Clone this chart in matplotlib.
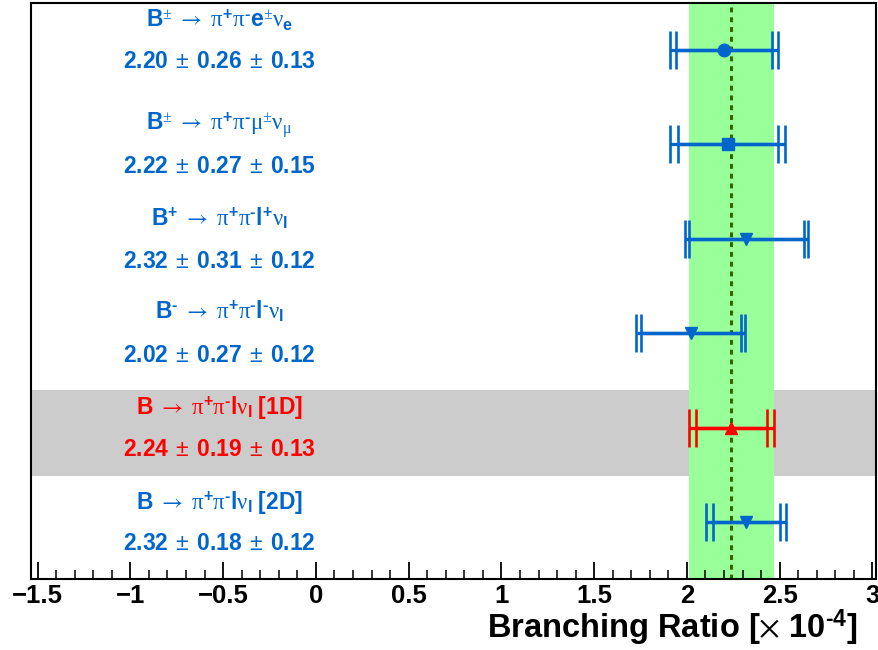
import numpy as np
import matplotlib
matplotlib.use("Agg")
import matplotlib.pyplot as plt
from matplotlib.ticker import MultipleLocator

plt.rcParams["font.family"] = ["Liberation Sans", "DejaVu Sans"]
plt.rcParams["mathtext.fontset"] = "custom"
plt.rcParams["mathtext.rm"] = "Liberation Serif"
plt.rcParams["mathtext.it"] = "Liberation Serif:italic"
plt.rcParams["mathtext.bf"] = "Liberation Sans:bold"
plt.rcParams["mathtext.sf"] = "Liberation Sans"
plt.rcParams["mathtext.tt"] = "STIXGeneral"
plt.rcParams["mathtext.default"] = "rm"

HY = "\u2010"  # short hyphen used for the negative charge superscripts
ARROW = r"\ \mathtt{\rightarrow}\ "
PM = r"\ \,\mathsf{\pm}\,\ "

# Measurements (branching ratio in units of 1e-4)
decay_labels = [
    r"$\mathbf{B}^{\pm}" + ARROW + r"\pi^{\mathbf{+}}\pi^{\mathbf{" + HY + r"}}\mathbf{e}^{\pm}\nu_{\mathbf{e}}$",
    r"$\mathbf{B}^{\pm}" + ARROW + r"\pi^{\mathbf{+}}\pi^{\mathbf{" + HY + r"}}\mu^{\pm}\nu_{\mu}$",
    r"$\mathbf{B}^{\mathbf{+}}" + ARROW + r"\pi^{\mathbf{+}}\pi^{\mathbf{" + HY + r"}}\mathbf{l}^{\mathbf{+}}\nu_{\mathbf{l}}$",
    r"$\mathbf{B}^{\mathbf{" + HY + r"}}" + ARROW + r"\pi^{\mathbf{+}}\pi^{\mathbf{" + HY + r"}}\mathbf{l}^{\mathbf{" + HY + r"}}\nu_{\mathbf{l}}$",
    r"$\mathbf{B}" + ARROW + r"\pi^{\mathbf{+}}\pi^{\mathbf{" + HY + r"}}\mathbf{l}\nu_{\mathbf{l}}\ \mathbf{[1D]}$",
    r"$\mathbf{B}" + ARROW + r"\pi^{\mathbf{+}}\pi^{\mathbf{" + HY + r"}}\mathbf{l}\nu_{\mathbf{l}}\ \mathbf{[2D]}$",
]
central = [2.20, 2.22, 2.32, 2.02, 2.24, 2.32]
stat_err = [0.26, 0.27, 0.31, 0.27, 0.19, 0.18]
syst_err = [0.13, 0.15, 0.12, 0.12, 0.13, 0.12]
markers = ["o", "s", "v", "v", "^", "v"]
highlight = 4  # the 1D result sets the reference band

tick_values = [-1.5, -1, -0.5, 0, 0.5, 1, 1.5, 2, 2.5, 3]
tick_labels = ["\u22121.5", "\u22121", "\u22120.5", "0", "0.5", "1", "1.5", "2", "2.5", "3"]

blue = "#0066cc"
red = "#ff0000"
colors = [red if i == highlight else blue for i in range(len(central))]

central = np.array(central)
stat_err = np.array(stat_err)
syst_err = np.array(syst_err)
total_err = np.sqrt(stat_err**2 + syst_err**2)
rows = np.arange(len(central))

# text baselines for the two label lines of each row (data units)
title_y = [-0.233, 0.847, 1.862, 2.847, 3.852, 4.857]
value_y = [0.190, 1.302, 2.307, 3.302, 4.296, 5.291]

fig = plt.figure(figsize=(8.79, 6.5), dpi=100)
ax = fig.add_axes([0.0353, 0.1085, 0.9613, 0.8869])
ax.set_xlim(-1.535, 3.019)
ax.set_ylim(5.603, -0.497)

# highlighted row and the combined-result band
ax.axhspan(highlight - 0.402, highlight + 0.505, color="#cccccc", lw=0, zorder=0)
ax.axvspan(central[highlight] - total_err[highlight],
           central[highlight] + total_err[highlight],
           color="#99ff99", lw=0, zorder=1)
ax.axvline(central[highlight], color="#336600", lw=2.2, dashes=(1.6, 1.6), zorder=2)

for i in rows:
    ax.errorbar(central[i], i, xerr=total_err[i], fmt=markers[i], color=colors[i],
                ms=9, lw=2.4, capsize=13.5, capthick=1.9, zorder=4)
    ax.errorbar(central[i], i, xerr=stat_err[i], fmt="none", ecolor=colors[i],
                elinewidth=2.4, capsize=13.5, capthick=1.9, zorder=4)
    ax.text(-0.52, title_y[i], decay_labels[i], color=colors[i], fontsize=16.5,
            ha="center", va="baseline", zorder=5)
    value = (r"$\mathbf{%.2f}" % central[i] + PM + r"\mathbf{%.2f}" % stat_err[i]
             + PM + r"\mathbf{%.2f}$" % syst_err[i])
    ax.text(-0.52, value_y[i], value, color=colors[i], fontsize=16.5,
            ha="center", va="baseline", zorder=5)

for s in ax.spines.values():
    s.set_linewidth(1.5)
    s.set_zorder(6)

ax.xaxis.set_minor_locator(MultipleLocator(0.1))
ax.set_xticks(tick_values)
ax.set_xticklabels(tick_labels)
ax.tick_params(axis="x", which="major", direction="in", length=12.5, width=1.3,
               labelsize=18.5, pad=3, top=False)
ax.tick_params(axis="x", which="minor", direction="in", length=6.5, width=1.1, top=False)
for lab in ax.get_xticklabels():
    lab.set_fontweight("bold")
ax.tick_params(axis="y", which="both", left=False, right=False, labelleft=False)

ax.set_xlabel(r"Branching Ratio [$\mathtt{\times}$ 10$^{\mathbf{" + HY + r"4}}$]",
              fontsize=23.5, fontweight="bold", ha="right", va="baseline")
ax.xaxis.set_label_coords(0.9787, -0.102)

fig.savefig("out.png", dpi=100)
